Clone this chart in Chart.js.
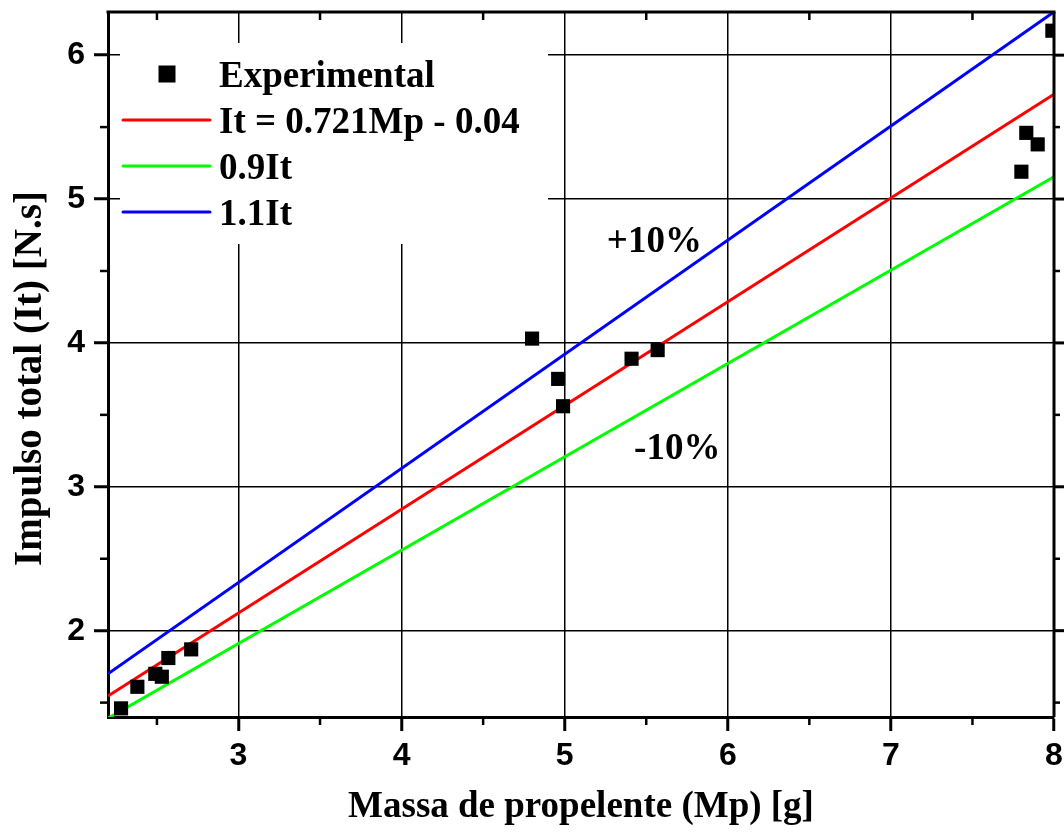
<!DOCTYPE html>
<html>
<head>
<meta charset="utf-8">
<title>Impulso total x Massa de propelente</title>
<script src="https://cdn.jsdelivr.net/npm/chart.js@4.4.1/dist/chart.umd.min.js"></script>
<style>
  body { margin: 0; background: #fff; }
  #wrap { width: 1064px; height: 840px; }
</style>
</head>
<body>
<div id="wrap"><canvas id="itChart" width="1064" height="840"></canvas></div>
<script>
// measured points: propellant mass [g] and total impulse [N.s]
const massData = [2.28, 2.38, 2.49, 2.53, 2.57, 2.71, 4.80, 4.96, 4.99, 5.41, 5.57, 7.80, 7.83, 7.90, 7.99];
const impulseData = [1.46, 1.61, 1.70, 1.68, 1.81, 1.87, 4.03, 3.75, 3.56, 3.89, 3.95, 5.19, 5.46, 5.38, 6.17];

// linear fit It = a*Mp + b and the +/-10% band
const fitSlope = 0.721;
const fitIntercept = -0.04;
const bandLow = 0.9;
const bandHigh = 1.1;
const lineMass = [2.2, 8.0];

const xTicks = [3, 4, 5, 6, 7, 8];
const yTicks = [2, 3, 4, 5, 6];
const xMinorTicks = [2.5, 3.5, 4.5, 5.5, 6.5, 7.5];
const yMinorTicks = [1.5, 2.5, 3.5, 4.5, 5.5];

const serif = '"Liberation Serif", "Times New Roman", serif';
const sans = '"Liberation Sans", Arial, sans-serif';

const fitLine = lineMass.map(m => ({ x: m, y: fitSlope * m + fitIntercept }));
const lowLine = fitLine.map(p => ({ x: p.x, y: p.y * bandLow }));
const highLine = fitLine.map(p => ({ x: p.x, y: p.y * bandHigh }));
const points = massData.map((m, i) => ({ x: m, y: impulseData[i] }));

function drawLine(ctx, x1, y1, x2, y2) {
  ctx.beginPath();
  ctx.moveTo(x1, y1);
  ctx.lineTo(x2, y2);
  ctx.stroke();
}

// keep the plot box fixed: no extra room for the edge labels
function fixBox(s, size) {
  if (s.isHorizontal()) s.height = size; else s.width = size;
  s.paddingTop = 0;
  s.paddingBottom = 0;
  s.paddingLeft = 0;
  s.paddingRight = 0;
}

// minor ticks, top/right frame and the extra ticks on the right side
const frameDecor = {
  id: 'frameDecor',
  afterDraw(chart) {
    const { ctx, chartArea: a, scales: { x, y } } = chart;
    ctx.save();
    ctx.strokeStyle = '#000';
    ctx.lineWidth = 2.5;
    xMinorTicks.forEach(v => {
      const px = x.getPixelForValue(v);
      drawLine(ctx, px, a.bottom, px, a.bottom + 8);
      drawLine(ctx, px, a.top, px, a.top + 8);
    });
    yMinorTicks.forEach(v => {
      const py = y.getPixelForValue(v);
      drawLine(ctx, a.left - 8, py, a.left, py);
      drawLine(ctx, a.right, py, a.right + 6, py);
    });
    ctx.lineWidth = 3;
    yTicks.forEach(v => {
      const py = y.getPixelForValue(v);
      drawLine(ctx, a.right, py, a.right + 12, py);
    });
    drawLine(ctx, a.left - 1.5, a.top, a.right + 1.5, a.top);
    drawLine(ctx, a.right, a.top, a.right, a.bottom);

    // y axis title, set a little below the middle of the axis
    ctx.fillStyle = '#000';
    ctx.font = 'bold 39px ' + serif;
    ctx.textAlign = 'center';
    ctx.textBaseline = 'alphabetic';
    ctx.translate(41, (a.top + a.bottom) / 2 + 14);
    ctx.rotate(-Math.PI / 2);
    ctx.fillText('Impulso total (It) [N.s]', 0, 0);
    ctx.restore();
  }
};

// legend box in the upper left corner plus the +10% / -10% notes
const legendBox = {
  id: 'legendBox',
  afterDatasetsDraw(chart) {
    const { ctx, chartArea: a, scales: { x, y } } = chart;
    ctx.save();
    ctx.fillStyle = '#fff';
    ctx.fillRect(a.left + 12, a.top + 31, 428, 201);

    ctx.font = 'bold 37px ' + serif;
    ctx.textAlign = 'left';
    ctx.textBaseline = 'alphabetic';
    chart.data.datasets.forEach((ds, i) => {
      const rowY = a.top + 62 + i * 46;
      if (ds.showLine) {
        ctx.strokeStyle = ds.borderColor;
        ctx.lineWidth = 3;
        ctx.lineCap = 'round';
        drawLine(ctx, a.left + 15, rowY, a.left + 102, rowY);
      } else {
        ctx.fillStyle = ds.pointBackgroundColor;
        ctx.fillRect(a.left + 59 - 8.5, rowY - 8.5, 17, 17);
      }
      ctx.fillStyle = '#000';
      ctx.fillText(ds.label, a.left + 111, rowY + 12.5);
    });

    const notes = [
      { text: '+10%', mass: 5.55, impulse: 4.63 },
      { text: '-10%', mass: 5.69, impulse: 3.19 }
    ];
    ctx.textAlign = 'center';
    notes.forEach(n => {
      ctx.fillText(n.text, x.getPixelForValue(n.mass), y.getPixelForValue(n.impulse));
    });
    ctx.restore();
  }
};

const ctx = document.getElementById('itChart').getContext('2d');
new Chart(ctx, {
  type: 'scatter',
  data: {
    datasets: [{
      label: 'Experimental',
      data: points,
      pointStyle: 'rect',
      pointRadius: 10,
      pointHoverRadius: 10,
      pointBackgroundColor: '#000',
      pointBorderWidth: 0,
      borderColor: '#000',
      showLine: false
    }, {
      label: 'It = ' + fitSlope + 'Mp - ' + Math.abs(fitIntercept).toFixed(2),
      data: fitLine,
      showLine: true,
      borderColor: '#ff0000',
      borderWidth: 3,
      pointRadius: 0
    }, {
      label: bandLow + 'It',
      data: lowLine,
      showLine: true,
      borderColor: '#00ff00',
      borderWidth: 3,
      pointRadius: 0
    }, {
      label: bandHigh + 'It',
      data: highLine,
      showLine: true,
      borderColor: '#0000ff',
      borderWidth: 3,
      pointRadius: 0
    }]
  },
  options: {
    responsive: false,
    animation: false,
    layout: { padding: { top: 12, right: 9, left: 0, bottom: 0 } },
    plugins: {
      legend: { display: false },
      tooltip: { enabled: false }
    },
    scales: {
      x: {
        type: 'linear',
        min: 2.2,
        max: 8.0,
        afterBuildTicks: s => { s.ticks = xTicks.map(v => ({ value: v })); },
        afterFit: s => fixBox(s, 123),
        ticks: {
          color: '#000',
          font: { family: sans, size: 32, weight: 'bold' },
          padding: 6,
          maxRotation: 0,
          callback: v => String(v)
        },
        grid: { color: '#000', lineWidth: 1.5, tickLength: 14, tickWidth: 3, tickColor: '#000' },
        border: { display: true, color: '#000', width: 3 },
        title: {
          display: true,
          text: 'Massa de propelente (Mp) [g]',
          color: '#000',
          font: { family: serif, size: 37, weight: 'bold', lineHeight: 1.2 },
          padding: { top: 0, bottom: 10 }
        }
      },
      y: {
        type: 'linear',
        min: 1.4,
        max: 6.3,
        afterBuildTicks: s => { s.ticks = yTicks.map(v => ({ value: v })); },
        afterFit: s => fixBox(s, 108),
        ticks: {
          color: '#000',
          font: { family: sans, size: 32, weight: 'bold' },
          padding: 9,
          callback: v => String(v)
        },
        grid: { color: '#000', lineWidth: 1.5, tickLength: 14, tickWidth: 3, tickColor: '#000' },
        border: { display: true, color: '#000', width: 3 }
      }
    }
  },
  plugins: [frameDecor, legendBox]
});
</script>
</body>
</html>
